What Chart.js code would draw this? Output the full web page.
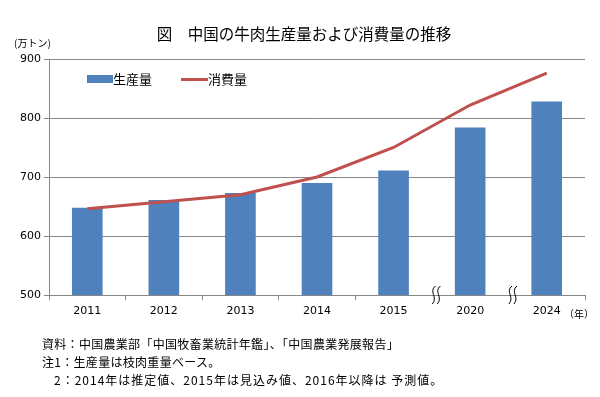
<!DOCTYPE html>
<html>
<head>
<meta charset="utf-8">
<script src="https://cdn.jsdelivr.net/npm/chart.js@4/dist/chart.umd.min.js"></script>
<style>
  body { margin: 0; background: #fff; }
  #wrap { position: relative; width: 600px; height: 397px; overflow: hidden;
          font-family: "Noto Sans CJK JP", sans-serif; color: #000; }
  #chart { position: absolute; left: 0; top: 0; }
  .txt { position: absolute; white-space: nowrap; line-height: 1; }
  #title { left: 0; width: 608px; text-align: center; top: 26px; font-size: 15.5px; }
  #unit { left: 14px; top: 38px; font-size: 10px; }
  #year { left: 564px; top: 309px; font-size: 10px; }
  .legBox { position: absolute; left: 87px; top: 75px; width: 26px; height: 8px; background: #4F81BD; }
  .legLine { position: absolute; left: 181px; top: 78px; width: 27px; height: 3px; background: #C0504D; }
  .legTxt { font-size: 13px; top: 72px; }
  .note { font-size: 12px; left: 42px; }
</style>
</head>
<body>
<div id="wrap">
  <canvas id="chart" width="600" height="397"></canvas>
  <div class="txt" id="title">図　中国の牛肉生産量および消費量の推移</div>
  <div class="txt" id="unit">(万トン)</div>
  <div class="txt" id="year">（年）</div>
  <div class="legBox"></div>
  <div class="txt legTxt" style="left:113px">生産量</div>
  <div class="legLine"></div>
  <div class="txt legTxt" style="left:208px">消費量</div>
  <div class="txt note" style="top:338px; letter-spacing:0.3px">資料：中国農業部「中国牧畜業統計年鑑」、「中国農業発展報告」</div>
  <div class="txt note" style="top:356px; letter-spacing:0.3px">注1：生産量は枝肉重量ベース。</div>
  <div class="txt note" style="top:374px; left:54px; letter-spacing:1px">2：2014年は推定値、2015年は見込み値、2016年以降は 予測値。</div>
</div>
<script>
// データ
const years = ["2011", "2012", "2013", "2014", "2015", "2020", "2024"];
const production = [648, 661, 673, 690, 711, 784, 828];   // 生産量
const consumption = [646, 658, 670, 700, 750, 822, 876];  // 消費量
const yTicks = [500, 600, 700, 800, 900];

const gridColor = "#868686";
const breaksAfter = [4, 5]; // 波線を入れる位置（この index の右側）

// 軸の波線（省略記号）を描く
const breakMarks = {
    id: "breakMarks",
    afterDraw(chart) {
        const ctx = chart.ctx;
        const x = chart.scales.x;
        const yBottom = chart.scales.y.bottom;
        ctx.save();
        ctx.strokeStyle = "#000";
        ctx.lineWidth = 1;
        breaksAfter.forEach(i => {
            const cx = (x.getPixelForValue(i) + x.getPixelForValue(i + 1)) / 2 + 4;
            [-2.5, 2.5].forEach(dx => {
                const bx = cx + dx;
                ctx.beginPath();
                ctx.moveTo(bx + 2, yBottom - 9);
                ctx.bezierCurveTo(bx - 5, yBottom - 3, bx + 5, yBottom + 2, bx - 1, yBottom + 9);
                ctx.stroke();
            });
        });
        ctx.restore();
    }
};

const chart = new Chart(document.getElementById("chart"), {
    data: {
        labels: years,
        datasets: [
            {
                type: "line",
                label: "消費量",
                data: consumption,
                borderColor: "#C0504D",
                borderWidth: 3,
                pointRadius: 0,
                tension: 0,
                order: 0
            },
            {
                type: "bar",
                label: "生産量",
                data: production,
                backgroundColor: "#4F81BD",
                categoryPercentage: 0.8,
                barPercentage: 0.5,
                order: 1
            }
        ]
    },
    options: {
        responsive: false,
        animation: false,
        layout: { padding: { top: 59, right: 15, left: 0, bottom: 0 } },
        plugins: {
            legend: { display: false },
            tooltip: { enabled: false }
        },
        scales: {
            x: {
                afterFit: s => { s.height = 102; },
                grid: {
                    drawOnChartArea: false,
                    tickLength: 5,
                    color: c => (c.index === 5 || c.index === 6) ? "rgba(0,0,0,0)" : gridColor
                },
                border: { color: gridColor },
                ticks: {
                    color: "#000",
                    padding: 5,
                    font: { family: "DejaVu Sans", size: 11 }
                }
            },
            y: {
                min: 500,
                max: 900,
                afterFit: s => { s.width = 49; },
                afterBuildTicks: s => { s.ticks = yTicks.map(v => ({ value: v })); },
                grid: { color: gridColor, tickLength: 5 },
                border: { color: gridColor },
                ticks: {
                    color: "#000",
                    padding: 3,
                    font: { family: "DejaVu Sans", size: 11 }
                }
            }
        }
    },
    plugins: [breakMarks]
});
</script>
</body>
</html>
